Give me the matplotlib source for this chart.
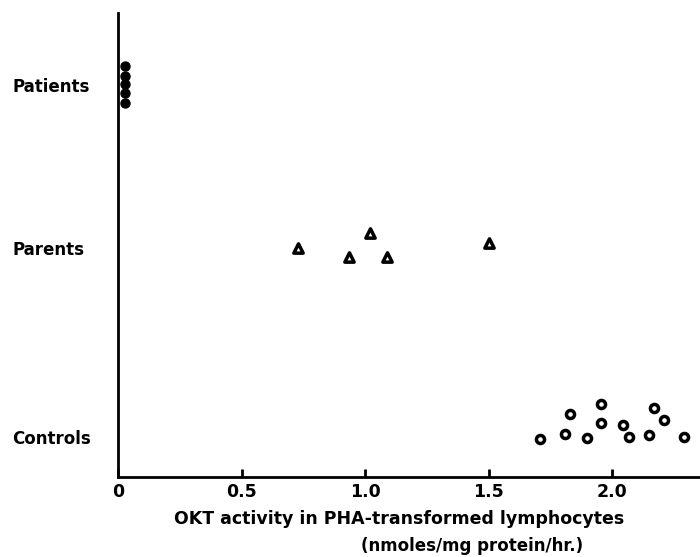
import numpy as np
import matplotlib
matplotlib.use('Agg')
import matplotlib.pyplot as plt

# values (x = OKT activity, y = vertical spread within a row)
patients_x = [0.03, 0.03, 0.03, 0.03, 0.03]
patients_y = [4.11, 4.01, 3.93, 3.84, 3.74]

parents_x = [0.73, 0.935, 1.02, 1.09, 1.50]
parents_y = [2.29, 2.20, 2.44, 2.20, 2.34]

controls_x = [1.71, 1.81, 1.83, 1.90, 1.955, 1.955, 2.045, 2.07, 2.15, 2.17, 2.21, 2.29]
controls_y = [0.38, 0.43, 0.63, 0.39, 0.73, 0.54, 0.52, 0.40, 0.42, 0.69, 0.57, 0.40]

groups = ['Controls', 'Parents', 'Patients']
group_pos = [0.40, 2.29, 3.92]
xticks = [0, 0.5, 1.0, 1.5, 2.0]
xticklabels = ['0', '0.5', '1.0', '1.5', '2.0']

fig = plt.figure(figsize=(7, 5.57), dpi=100)
ax = fig.add_axes([0.1686, 0.1436, 0.8314, 0.833])

ax.scatter(patients_x, patients_y, s=42, c='black', marker='o', zorder=3)
ax.scatter(parents_x, parents_y, s=45, facecolors='white', edgecolors='black',
           linewidths=2.5, marker='^', zorder=3)
ax.scatter(controls_x, controls_y, s=34, facecolors='white', edgecolors='black',
           linewidths=2.5, marker='o', zorder=3)

ax.set_xlim(0, 2.356)
ax.set_ylim(0, 4.64)

for side in ['top', 'right']:
    ax.spines[side].set_visible(False)
ax.spines['left'].set_linewidth(2)
ax.spines['bottom'].set_linewidth(2)

ax.set_xticks(xticks)
ax.set_xticklabels(xticklabels, fontsize=12.5, fontweight='bold')
ax.tick_params(axis='x', direction='in', length=6, width=2, pad=4)

ax.set_yticks(group_pos)
ax.set_yticklabels(groups, fontsize=12, fontweight='bold')
ax.tick_params(axis='y', length=0, pad=10)
for lab in ax.get_yticklabels():
    lab.set_horizontalalignment('left')
    lab.set_x(-0.158)

fig.text(0.57, 0.068, 'OKT activity in PHA-transformed lymphocytes',
         ha='center', va='center', fontsize=12.5, fontweight='bold')
fig.text(0.675, 0.02, '(nmoles/mg protein/hr.)',
         ha='center', va='center', fontsize=12, fontweight='bold')

fig.savefig('out.png', dpi=100)
